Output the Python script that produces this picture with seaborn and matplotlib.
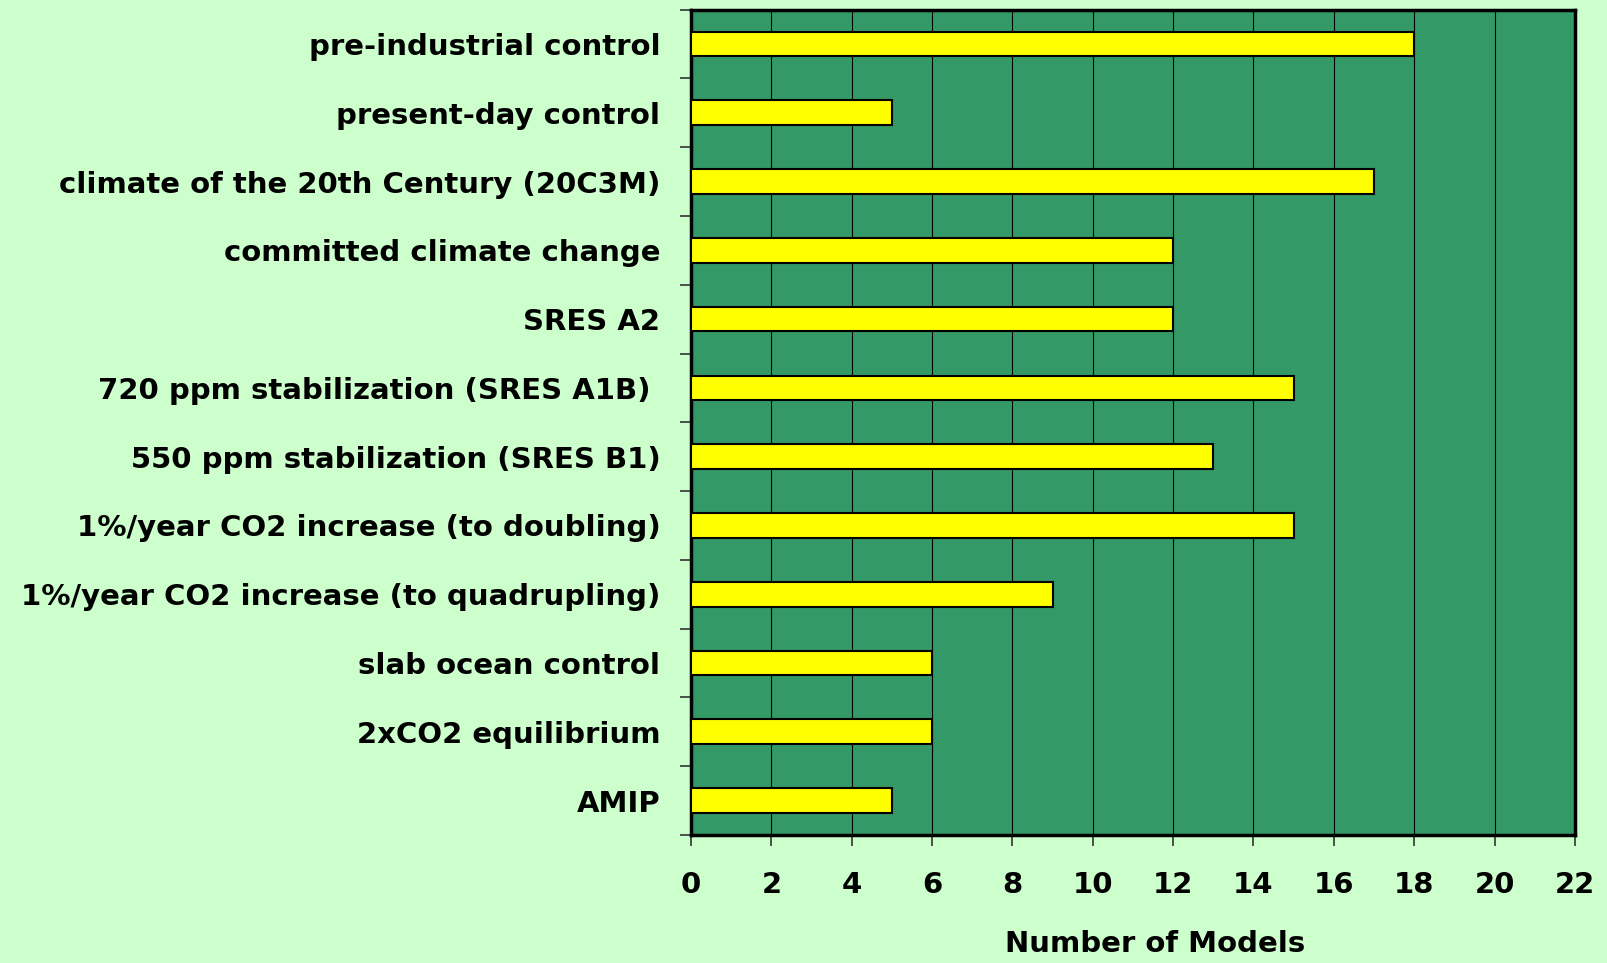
import matplotlib
matplotlib.use('Agg')
import matplotlib.pyplot as plt
import numpy as np
import pandas as pd
import seaborn as sns

# 实验名称与模型数量
experiments = [
    'pre-industrial control',
    'present-day control',
    'climate of the 20th Century (20C3M)',
    'committed climate change',
    'SRES A2',
    '720 ppm stabilization (SRES A1B) ',
    '550 ppm stabilization (SRES B1)',
    '1%/year CO2 increase (to doubling)',
    '1%/year CO2 increase (to quadrupling)',
    'slab ocean control',
    '2xCO2 equilibrium',
    'AMIP',
]
model_counts = [18, 5, 17, 12, 12, 15, 13, 15, 9, 6, 6, 5]
x_ticks = list(range(0, 23, 2))

BG = '#CCFFCC'
PANEL = '#339966'
BAR = '#FFFF00'

df = pd.DataFrame({'experiment': experiments, 'models': model_counts})

sns.set_style('white')
plt.rcParams['font.family'] = ['DejaVu Sans']
plt.rcParams['font.weight'] = 'bold'
plt.rcParams['text.color'] = 'black'
plt.rcParams['xtick.labelcolor'] = 'black'
plt.rcParams['ytick.labelcolor'] = 'black'
plt.rcParams['axes.labelcolor'] = 'black'

fig = plt.figure(figsize=(16.07, 9.63), dpi=100, facecolor=BG)
ax = fig.add_axes([0.430, 0.133, 0.550, 0.857])
ax.set_facecolor(PANEL)

sns.barplot(data=df, x='models', y='experiment', orient='h', color=BAR,
            saturation=1, width=0.36, edgecolor='black', linewidth=1.5,
            ax=ax, zorder=3)

ax.set_xlim(0, 22)
ax.set_ylim(len(experiments) - 0.5, -0.5)
ax.set_xticks(x_ticks)
ax.set_xticklabels([str(t) for t in x_ticks], fontsize=21, fontweight='bold')
ax.grid(axis='x', color='black', linewidth=0.8, zorder=1)
ax.set_axisbelow(True)

# 分类标签居中，刻度线放在分类之间
ax.set_yticks(range(len(experiments)))
ax.set_yticklabels(experiments, fontsize=21, fontweight='bold')
ax.set_yticks(np.arange(-0.5, len(experiments)), minor=True)
ax.tick_params(axis='y', which='major', length=0, pad=22)
ax.tick_params(axis='y', which='minor', length=8, width=1.2, color='#333333',
               direction='out', left=True)
ax.tick_params(axis='x', length=8, width=1.2, color='#333333',
               direction='out', bottom=True, pad=18)

for s in ax.spines.values():
    s.set_color('black')
    s.set_linewidth(2.5)

ax.set_ylabel('')
ax.set_xlabel('Number of Models', fontsize=21, fontweight='bold')
ax.xaxis.set_label_coords(0.525, -0.115)

fig.savefig('out.png', dpi=100, facecolor=BG)
